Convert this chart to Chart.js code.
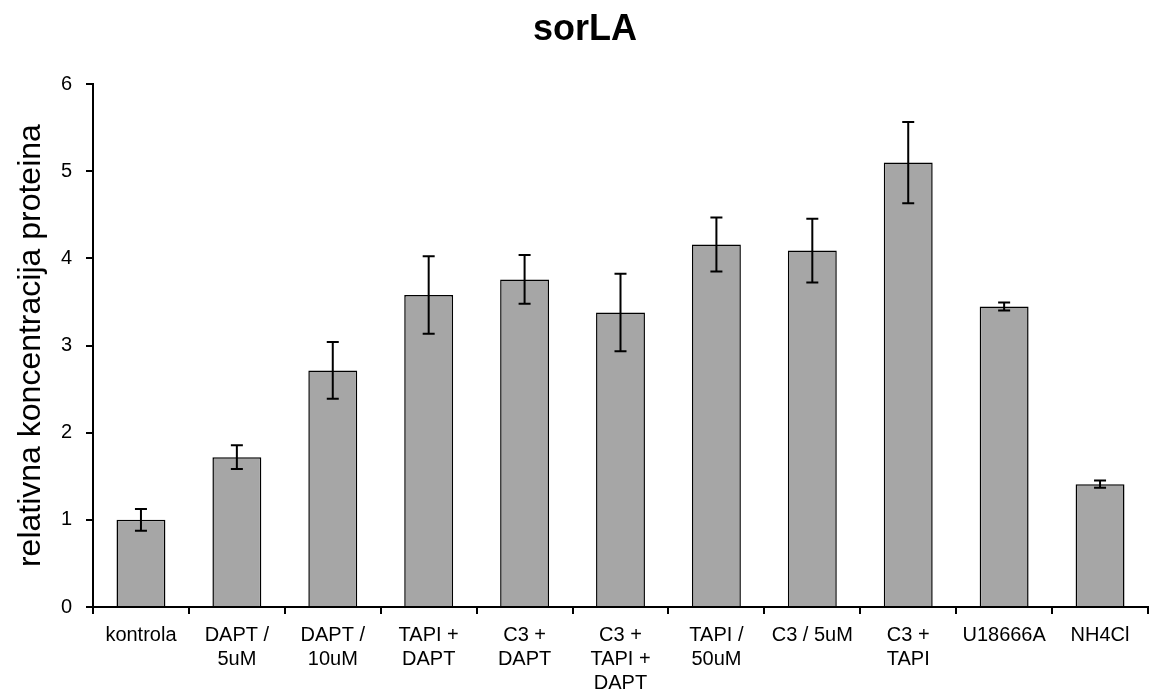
<!DOCTYPE html>
<html>
<head>
<meta charset="utf-8">
<script src="https://cdn.jsdelivr.net/npm/chart.js@4/dist/chart.umd.min.js"></script>
<style>
  html, body { margin: 0; padding: 0; background: #fff; }
  #wrap { width: 1150px; height: 690px; }
</style>
</head>
<body>
<div id="wrap"><canvas id="chart"></canvas></div>
<script>
// data
var categories = [
    'kontrola', ['DAPT /', '5uM'], ['DAPT /', '10uM'], ['TAPI +', 'DAPT'], ['C3 +', 'DAPT'],
    ['C3 +', 'TAPI +', 'DAPT'], ['TAPI /', '50uM'], 'C3 / 5uM', ['C3 +', 'TAPI'], 'U18666A', 'NH4Cl'
];
var values = [1.00, 1.72, 2.715, 3.58, 3.76, 3.38, 4.16, 4.09, 5.10, 3.45, 1.41];
var errors = [0.125, 0.135, 0.325, 0.445, 0.28, 0.445, 0.31, 0.365, 0.465, 0.046, 0.042];
var yTicks = [0, 1, 2, 3, 4, 5, 6];

Chart.defaults.font.family = 'Arial, "Liberation Sans", sans-serif';
Chart.defaults.color = '#000';

// error bars drawn from the y scale
var errorBars = {
    id: 'errorBars',
    afterLayout: function(chart) {
        // title sits a little right of the canvas centre in the original
        if (chart.titleBlock) chart.titleBlock.left += 22;
    },
    afterDatasetsDraw: function(chart) {
        var ctx = chart.ctx;
        var y = chart.scales.y;
        var meta = chart.getDatasetMeta(0);
        ctx.save();
        ctx.strokeStyle = '#000';
        ctx.lineWidth = 2;
        meta.data.forEach(function(bar, i) {
            var top = y.getPixelForValue(values[i] + errors[i]);
            var bot = y.getPixelForValue(values[i] - errors[i]);
            ctx.beginPath();
            ctx.moveTo(bar.x, top); ctx.lineTo(bar.x, bot);
            ctx.moveTo(bar.x - 6, top); ctx.lineTo(bar.x + 6, top);
            ctx.moveTo(bar.x - 6, bot); ctx.lineTo(bar.x + 6, bot);
            ctx.stroke();
        });
        ctx.restore();
    }
};

var ctx = document.getElementById('chart').getContext('2d');
var chart = new Chart(ctx, {
    type: 'bar',
    data: {
        labels: categories,
        datasets: [{
            data: values,
            backgroundColor: '#a6a6a6',
            borderColor: '#000',
            borderWidth: 1.5,
            barPercentage: 0.51,
            categoryPercentage: 1
        }]
    },
    options: {
        responsive: true,
        maintainAspectRatio: false,
        animation: false,
        layout: { padding: { left: 0, right: 2, top: 0, bottom: 0 } },
        plugins: {
            legend: { display: false },
            tooltip: { enabled: false },
            title: {
                display: true,
                text: 'sorLA',
                font: { size: 36, weight: 'bold' },
                padding: { top: 8, bottom: 33 }
            }
        },
        scales: {
            x: {
                grid: { drawOnChartArea: false, drawTicks: true, tickLength: 7, color: '#000', lineWidth: 2, offset: true },
                border: { color: '#000', width: 2 },
                ticks: { font: { size: 20, lineHeight: 1.2 }, maxRotation: 0, autoSkip: false, padding: 9 },
                afterFit: function(scale) { scale.height = 83; }
            },
            y: {
                min: 0,
                max: 6,
                afterBuildTicks: function(scale) {
                    scale.ticks = yTicks.map(function(v) { return { value: v }; });
                },
                grid: { drawOnChartArea: false, drawTicks: true, tickLength: 7, color: '#000', lineWidth: 2 },
                border: { color: '#000', width: 2 },
                ticks: { font: { size: 20 }, padding: 14 },
                title: {
                    display: true,
                    text: 'relativna koncentracija proteina',
                    font: { size: 32 },
                    padding: { top: 12, bottom: 0 }
                },
                afterFit: function(scale) { scale.width = 93; }
            }
        }
    },
    plugins: [errorBars]
});
</script>
</body>
</html>
